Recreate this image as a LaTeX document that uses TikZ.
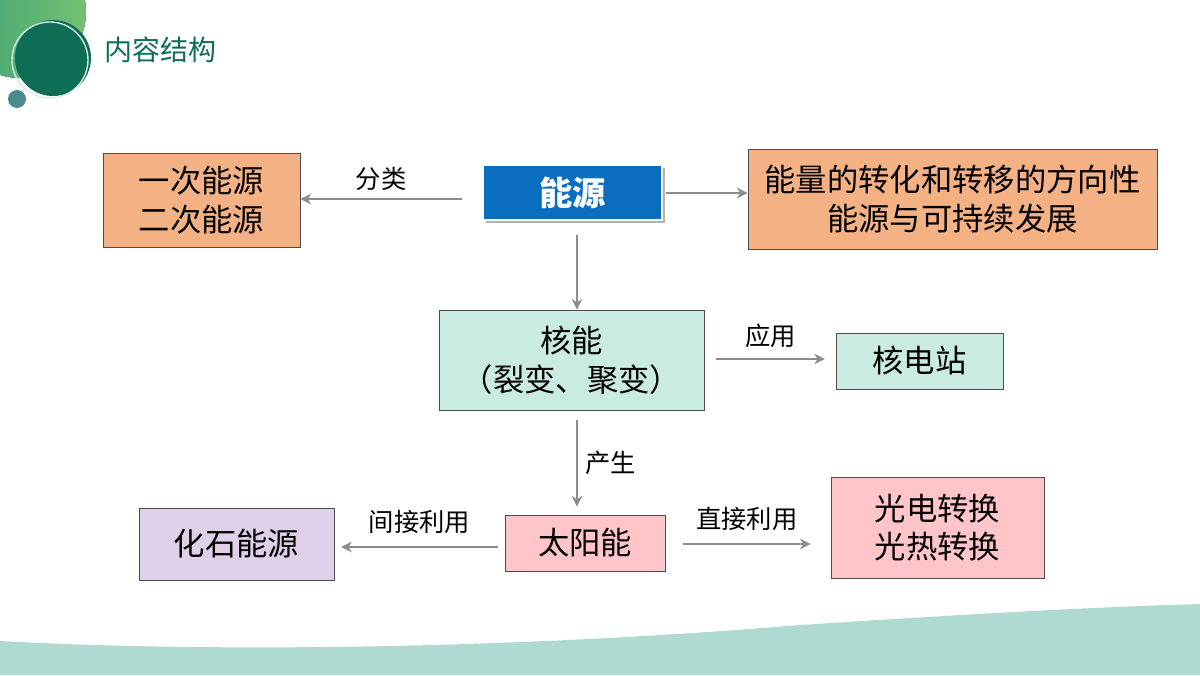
\documentclass[tikz,border=0pt]{standalone}
\usepackage{fontspec}
\setmainfont{Noto Sans CJK SC}
\usetikzlibrary{arrows.meta}
\definecolor{orng}{HTML}{F4B183}
\definecolor{tealb}{HTML}{C9EBE3}
\definecolor{pnk}{HTML}{FFC5C9}
\definecolor{lav}{HTML}{DDD0E8}
\definecolor{blu}{HTML}{0A6EC0}
\definecolor{dgreen}{HTML}{0E6E55}
\definecolor{wave}{HTML}{AEDAD2}
\begin{document}
\begin{tikzpicture}[x=0.75pt,y=-0.75pt,
 box/.style={draw=black!70,line width=0.7pt,font=\fontsize{23.5}{29}\selectfont,align=center,inner sep=0},
 arr/.style={draw=black!45,line width=1.8pt,-{Stealth[length=8pt,width=8pt]}},
 lab/.style={font=\fontsize{19}{23}\selectfont}]
\useasboundingbox (0,0) rectangle (1200,675);
% decoration
\begin{scope}
\clip (0,0) rectangle (200,130);
\fill[left color=teal!70!green!80!black!75,right color=green!55!black!55] (20,12) circle[radius=66];
\end{scope}
\fill[dgreen] (53,58) circle[radius=38];
\draw[white!85!teal,line width=1pt] (50,60) circle[radius=38];
\fill[teal!70!black!70] (17,99) circle[radius=9];
\node[anchor=west,text=dgreen,font=\fontsize{21}{25}\selectfont] (title) at (100,50) {内容结构};
\fill[wave] (0,641) .. controls (200,652) and (500,650) .. (800,625) .. controls (1000,612) and (1100,607) .. (1200,604) -- (1200,675) -- (0,675) -- cycle;
% boxes
\node[box,fill=orng,minimum width=197*0.75pt,minimum height=94*0.75pt] (prim) at (201.5,200) {一次能源\\二次能源};
\fill[black!30] (486,168) rectangle (665,223);
\node[draw=white,line width=1.5pt,fill=blu,text=white,font=\bfseries\fontsize{25}{29}\selectfont,minimum width=179*0.75pt,minimum height=55*0.75pt,inner sep=0] (ny) at (572.5,192.5) {能源};
\node[box,fill=orng,minimum width=409*0.75pt,minimum height=100*0.75pt] (dir) at (952.5,199) {能量的转化和转移的方向性\\能源与可持续发展};
\node[box,fill=tealb,minimum width=265*0.75pt,minimum height=100*0.75pt] (hn) at (571.5,360) {核能\\（裂变、聚变）};
\node[box,fill=tealb,minimum width=167*0.75pt,minimum height=56*0.75pt] (hd) at (919.5,361) {核电站};
\node[box,fill=pnk,minimum width=160*0.75pt,minimum height=56*0.75pt] (ty) at (585,543) {太阳能};
\node[box,fill=pnk,minimum width=213*0.75pt,minimum height=101*0.75pt] (gd) at (937.5,527.5) {光电转换\\光热转换};
\node[box,fill=lav,minimum width=195*0.75pt,minimum height=72*0.75pt] (hs) at (236.5,544) {化石能源};
% arrows
\draw[arr] ([xshift=-15pt]ny.west|-0,199) -- (prim.east|-0,199) node[lab,midway,above=2pt] {分类};
\draw[arr] ([xshift=2pt]ny.east|-0,193) -- (dir.west|-0,193);
\draw[arr] (577,235) -- (hn.north-|577,0);
\draw[arr] ([xshift=9pt]hn.east|-0,359) -- ([xshift=-8pt]hd.west|-0,359) node[lab,midway,above=4pt] {应用};
\draw[arr] (577,420) -- ([yshift=6pt]ty.north-|577,0) node[lab,midway,right=2pt] {产生};
\draw[arr] ([xshift=-5pt]ty.west|-0,547) -- ([xshift=5pt]hs.east|-0,547) node[lab,midway,above=6pt] {间接利用};
\draw[arr] ([xshift=13pt]ty.east|-0,544) -- ([xshift=-15pt]gd.west|-0,544) node[lab,midway,above=6pt] {直接利用};
\end{tikzpicture}
\end{document}
